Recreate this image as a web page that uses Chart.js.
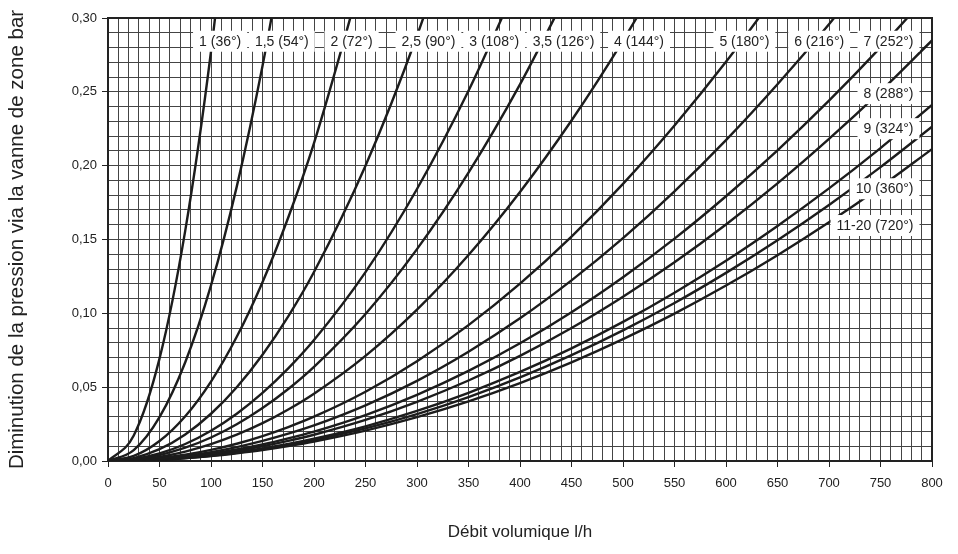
<!DOCTYPE html>
<html lang="fr">

<head>
  <meta charset="UTF-8">
  <title>Diminution de la pression via la vanne de zone</title>
  <style>
    body {
      margin: 0;
      background: #fff;
    }

    canvas {
      display: block;
    }
  </style>
  <script src="https://cdn.jsdelivr.net/npm/chart.js"></script>
</head>

<body>
  <canvas id="pressureChart" width="958" height="554"></canvas>

  <script>
    // Débit volumique (l/h) - shared x positions for every curve
    const flowRates = [0, 25, 50, 75, 100, 125, 150, 175, 200, 250, 300, 350, 400, 450, 500, 550, 600, 650, 700, 750, 800];

    // Valve settings (turns + angle), one curve each
    const settingNames = ['1 (36°)', '1,5 (54°)', '2 (72°)', '2,5 (90°)', '3 (108°)', '3,5 (126°)', '4 (144°)',
      '5 (180°)', '6 (216°)', '7 (252°)', '8 (288°)', '9 (324°)', '10 (360°)', '11-20 (720°)'];

    // Pressure drop in bar at each flow rate
    const drop1 = [0, 0.0173, 0.0693, 0.1560, 0.2773, 0.4333];
    const drop15 = [0, 0.0074, 0.0297, 0.0669, 0.1189, 0.1858, 0.2675, 0.3641];
    const drop2 = [0, 0.0034, 0.0135, 0.0303, 0.0538, 0.0841, 0.1211, 0.1649, 0.2153, 0.3365];
    const drop25 = [0, 0.0020, 0.0080, 0.0180, 0.0320, 0.0500, 0.0720, 0.0980, 0.1280, 0.2000, 0.2880, 0.3920];
    const drop3 = [0, 0.0013, 0.0051, 0.0115, 0.0205, 0.0320, 0.0461, 0.0627, 0.0819, 0.1279, 0.1842, 0.2507, 0.3275];
    const drop35 = [0, 0.0010, 0.0040, 0.0090, 0.0159, 0.0249, 0.0359, 0.0488, 0.0638, 0.0996, 0.1435, 0.1953, 0.2551, 0.3228];
    const drop4 = [0, 0.0007, 0.0028, 0.0064, 0.0114, 0.0178, 0.0256, 0.0349, 0.0456, 0.0712, 0.1025, 0.1395, 0.1822, 0.2306, 0.2847, 0.3445];
    const drop5 = [0, 0.0005, 0.0019, 0.0042, 0.0075, 0.0117, 0.0169, 0.0230, 0.0300, 0.0469, 0.0676, 0.0920, 0.1201, 0.1520, 0.1877, 0.2272, 0.2703, 0.3173];
    const drop6 = [0, 0.0004, 0.0015, 0.0034, 0.0060, 0.0094, 0.0136, 0.0185, 0.0241, 0.0377, 0.0543, 0.0740, 0.0966, 0.1223, 0.1509, 0.1826, 0.2173, 0.2551, 0.2958, 0.3396];
    const drop7 = [0, 0.0003, 0.0012, 0.0028, 0.0050, 0.0078, 0.0112, 0.0153, 0.0199, 0.0311, 0.0448, 0.0610, 0.0797, 0.1008, 0.1245, 0.1506, 0.1793, 0.2104, 0.2440, 0.2801, 0.3187];
    const drop8 = [0, 0.0003, 0.0011, 0.0025, 0.0045, 0.0070, 0.0100, 0.0136, 0.0178, 0.0278, 0.0401, 0.0545, 0.0712, 0.0901, 0.1113, 0.1346, 0.1602, 0.1880, 0.2181, 0.2503, 0.2848];
    const drop9 = [0, 0.0002, 0.0009, 0.0021, 0.0038, 0.0059, 0.0085, 0.0115, 0.0151, 0.0235, 0.0339, 0.0462, 0.0603, 0.0763, 0.0942, 0.1140, 0.1356, 0.1592, 0.1846, 0.2119, 0.2411];
    const drop10 = [0, 0.0002, 0.0009, 0.0020, 0.0035, 0.0055, 0.0080, 0.0108, 0.0142, 0.0221, 0.0318, 0.0433, 0.0566, 0.0717, 0.0885, 0.1070, 0.1274, 0.1495, 0.1734, 0.1990, 0.2264];
    const drop11to20 = [0, 0.0002, 0.0008, 0.0019, 0.0033, 0.0052, 0.0074, 0.0101, 0.0132, 0.0206, 0.0297, 0.0404, 0.0528, 0.0668, 0.0825, 0.0998, 0.1188, 0.1394, 0.1617, 0.1856, 0.2112];

    const allDrops = [drop1, drop15, drop2, drop25, drop3, drop35, drop4, drop5, drop6, drop7, drop8, drop9, drop10, drop11to20];

    const fontFamily = "'Liberation Sans', Arial, sans-serif";
    Chart.defaults.font.family = fontFamily;
    Chart.defaults.color = '#222';

    // Where each setting label sits (x in l/h, y in bar), boxes are drawn white over the grid
    const labelSpots = [
      [88.4, 0.2846, 'left'], [142.6, 0.2846, 'left'], [216, 0.2846, 'left'], [285, 0.2846, 'left'],
      [350.7, 0.2846, 'left'], [412.3, 0.2846, 'left'], [491.3, 0.2846, 'left'], [593.6, 0.2846, 'left'],
      [666.2, 0.2846, 'left'], [782, 0.2846, 'right'], [782, 0.2491, 'right'], [782, 0.2254, 'right'],
      [782, 0.1847, 'right'], [782, 0.1598, 'right']
    ];

    // Draws the frame on top/right and the setting labels in white boxes
    const labelPlugin = {
      id: 'settingLabels',
      beforeDatasetsDraw(chart) {
        const { ctx, chartArea } = chart;
        ctx.save();
        ctx.strokeStyle = '#222';
        ctx.lineWidth = 2;
        ctx.strokeRect(chartArea.left, chartArea.top, chartArea.right - chartArea.left, chartArea.bottom - chartArea.top);
        ctx.restore();
      },
      afterDatasetsDraw(chart) {
        const { ctx, scales } = chart;
        ctx.save();
        ctx.font = '14px ' + fontFamily;
        ctx.textBaseline = 'middle';
        settingNames.forEach((name, i) => {
          const spot = labelSpots[i];
          const px = scales.x.getPixelForValue(spot[0]);
          const py = scales.y.getPixelForValue(spot[1]);
          const w = ctx.measureText(name).width;
          const left = spot[2] === 'right' ? px - w : px;
          ctx.fillStyle = '#fff';
          ctx.fillRect(left - 6, py - 10, w + 12, 21);
          ctx.fillStyle = '#222';
          ctx.textAlign = 'left';
          ctx.fillText(name, left, py + 1);
        });
        ctx.restore();
      }
    };

    const datasets = allDrops.map((drops, i) => ({
      label: settingNames[i],
      data: drops.map((v, j) => ({ x: flowRates[j], y: v })),
      borderColor: '#1c1c1c',
      borderWidth: 2.4,
      pointRadius: 0,
      fill: false,
      cubicInterpolationMode: 'monotone'
    }));

    const isMajorX = ctx => ctx.tick && Math.round(ctx.tick.value) % 50 === 0;
    const isMajorY = ctx => ctx.tick && Math.round(ctx.tick.value * 1000) % 50 === 0;

    new Chart(document.getElementById('pressureChart'), {
      type: 'line',
      data: { datasets },
      options: {
        responsive: false,
        animation: false,
        layout: { padding: { top: 18, right: 26, bottom: 0, left: 0 } },
        plugins: {
          legend: { display: false },
          tooltip: { enabled: false }
        },
        scales: {
          x: {
            type: 'linear',
            min: 0,
            max: 800,
            afterFit: scale => { scale.height = 93; },
            ticks: {
              stepSize: 10,
              autoSkip: false,
              maxRotation: 0,
              padding: 9,
              font: { size: 13 },
              callback: v => (Math.round(v) % 50 === 0 ? String(v) : '')
            },
            grid: {
              color: '#444',
              lineWidth: 1,
              tickLength: 6,
              tickColor: ctx => (isMajorX(ctx) ? '#222' : 'rgba(0,0,0,0)')
            },
            border: { color: '#222', width: 2 },
            title: {
              display: true,
              text: 'Débit volumique l/h',
              font: { size: 17 },
              color: '#222',
              padding: { top: 0, bottom: 11 }
            }
          },
          y: {
            min: 0,
            max: 0.3,
            afterFit: scale => { scale.width = 108; },
            ticks: {
              stepSize: 0.01,
              autoSkip: false,
              padding: 5,
              font: { size: 13 },
              callback: v => (Math.round(v * 1000) % 50 === 0 ? v.toFixed(2).replace('.', ',') : '')
            },
            grid: {
              color: '#444',
              lineWidth: 1,
              tickLength: 6,
              tickColor: ctx => (isMajorY(ctx) ? '#222' : 'rgba(0,0,0,0)')
            },
            border: { color: '#222', width: 2 },
            title: {
              display: true,
              text: 'Diminution de la pression via la vanne de zone bar',
              font: { size: 20.5 },
              color: '#222',
              padding: { top: 5, bottom: 0 }
            }
          }
        }
      },
      plugins: [labelPlugin]
    });
  </script>
</body>

</html>
